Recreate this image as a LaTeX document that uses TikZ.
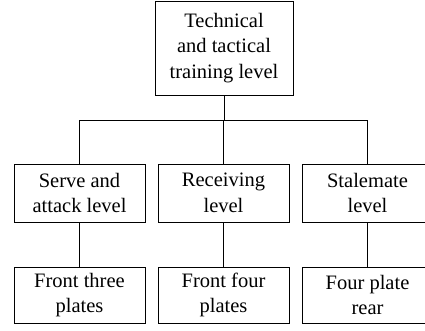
\documentclass[tikz,border=0pt]{standalone}
\usepackage{fontspec}
\setmainfont{Liberation Serif}
\begin{document}
\begin{tikzpicture}[x=1pt,y=1pt,
  box/.style={draw, line width=1pt, inner sep=0pt, align=center,
    font=\fontsize{20.5}{25.5}\selectfont, minimum width=131pt},
  conn/.style={line width=1pt}]
\useasboundingbox (0,0) rectangle (425,-330);
\node[box, minimum width=138pt, minimum height=94pt] (top) at (224,-48) {Technical\\and tactical\\training level};
\node[box, minimum height=58pt] (a) at (79.5,-193) {Serve and\\attack level};
\node[box, minimum height=58pt] (b) at (223.5,-193) {Receiving\\level};
\node[box, minimum height=58pt] (c) at (367.5,-193) {Stalemate\\level};
\node[box, minimum height=56pt] (d) at (79.5,-295) {Front three\\plates};
\node[box, minimum height=56pt] (e) at (223.5,-295) {Front four\\plates};
\node[box, minimum height=56pt] (f) at (367.5,-295) {Four plate\\rear};
\coordinate (bus) at (224,-120);
\draw[conn] (top.south) -- (top.south |- bus);
\draw[conn] (a.north) -- (a.north |- bus) -- (c.north |- bus) -- (c.north);
\draw[conn] (b.north) -- (b.north |- bus);
\draw[conn] (a.south) -- (d.north);
\draw[conn] (b.south) -- (e.north);
\draw[conn] (c.south) -- (f.north);
\end{tikzpicture}
\end{document}
